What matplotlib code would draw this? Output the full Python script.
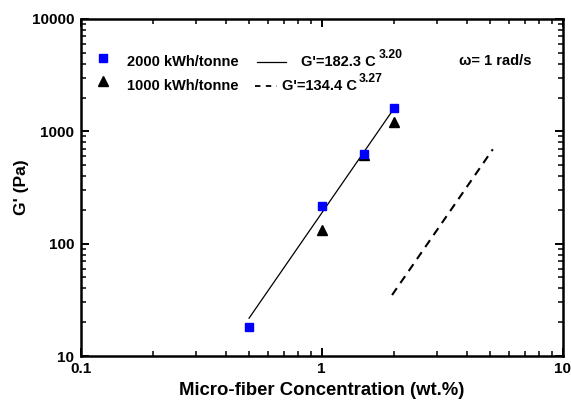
import matplotlib
matplotlib.use("Agg")
import matplotlib.pyplot as plt
from matplotlib.ticker import LogLocator, NullFormatter, FixedLocator, FixedFormatter

plt.rcParams['font.family'] = ['Liberation Sans', 'DejaVu Sans']
plt.rcParams['font.weight'] = 'bold'

# Data
conc_2000 = [0.5, 1.0, 1.5, 2.0]
g_2000 = [18.2, 218, 630, 1607]
conc_1000 = [1.0, 1.5, 2.0]
g_1000 = [132, 612, 1213]
fit_2000_x = [0.5, 2.0]
fit_2000_y = [21.7, 1607]
fit_1000_x = [1.96, 5.13]
fit_1000_y = [34.9, 692]
x_ticks = [0.1, 1, 10]
x_tick_labels = ['0.1', '1', '10']
y_ticks = [10, 100, 1000, 10000]
y_tick_labels = ['10', '100', '1000', '10000']

fig = plt.figure(figsize=(5.71, 4.03), dpi=100, facecolor='white')
ax = fig.add_axes([0.141, 0.1166, 0.8445, 0.8363])
ax.set_xscale('log')
ax.set_yscale('log')
ax.set_xlim(0.1, 10)
ax.set_ylim(10, 10000)

ax.plot(fit_2000_x, fit_2000_y, '-', color='black', lw=0.9)
ax.plot(fit_1000_x, fit_1000_y, '--', color='black', lw=1.5, dashes=(4, 3))
ax.plot(conc_2000, g_2000, 's', color='#0000ff', ms=6, mec='#0000ff', zorder=3)
ax.plot(conc_1000, g_1000, '^', color='black', ms=7.5, zorder=2)

ax.xaxis.set_major_locator(FixedLocator(x_ticks))
ax.xaxis.set_major_formatter(FixedFormatter(x_tick_labels))
ax.yaxis.set_major_locator(FixedLocator(y_ticks))
ax.yaxis.set_major_formatter(FixedFormatter(y_tick_labels))
ax.xaxis.set_minor_locator(LogLocator(base=10, subs=(2, 3, 4, 5, 6, 7, 8, 9), numticks=20))
ax.yaxis.set_minor_locator(LogLocator(base=10, subs=(2, 3, 4, 5, 6, 7, 8, 9), numticks=20))
ax.xaxis.set_minor_formatter(NullFormatter())
ax.yaxis.set_minor_formatter(NullFormatter())
ax.tick_params(which='both', direction='in', top=True, right=True, color='black')
ax.tick_params(which='major', length=6, width=1.4, labelsize=11, pad=4.5)
ax.tick_params(which='minor', length=3.5, width=1.1)
for s in ax.spines.values():
    s.set_linewidth(1.8)

ax.set_xlabel('Micro-fiber Concentration (wt.%)', fontsize=13.3, fontweight='bold', labelpad=4)
ax.set_ylabel("G' (Pa)", fontsize=12.5, fontweight='bold', labelpad=2)

# Legend-like annotation (placed in pixel-derived axes fractions)
tf = ax.transAxes
def px(x, y):
    return ((x - 80.5) / (562.7 - 80.5), (356 - y) / (356 - 19))

ax.plot(*px(103, 58), 's', color='#0000ff', ms=6, transform=tf, clip_on=False)
ax.plot(*px(103, 81), '^', color='black', ms=7.5, transform=tf, clip_on=False)
ax.text(*px(127, 62), '2000 kWh/tonne', transform=tf, fontsize=10.5, fontweight='bold', va='center')
ax.text(*px(127, 86), '1000 kWh/tonne', transform=tf, fontsize=10.5, fontweight='bold', va='center')
x0, y0 = px(257, 62.5); x1, _ = px(286, 62.5)
ax.plot([x0, x1], [y0, y0], '-', color='black', lw=0.9, transform=tf)
x0, y0 = px(255, 86.5); x1, _ = px(277, 86.5)
ax.plot([x0, x1], [y0, y0], '--', color='black', lw=1.3, dashes=(3, 3), transform=tf)
ax.text(*px(301, 62), "G'=182.3 C", transform=tf, fontsize=10.5, fontweight='bold', va='center')
ax.text(*px(379, 55), "3.20", transform=tf, fontsize=8.8, fontweight='bold', va='center')
ax.text(*px(282, 86), "G'=134.4 C", transform=tf, fontsize=10.5, fontweight='bold', va='center')
ax.text(*px(359, 79), "3.27", transform=tf, fontsize=8.8, fontweight='bold', va='center')
ax.text(*px(459, 61), 'ω= 1 rad/s', transform=tf, fontsize=10.5, fontweight='bold', va='center')

fig.savefig('out.png', dpi=100, facecolor='white')
